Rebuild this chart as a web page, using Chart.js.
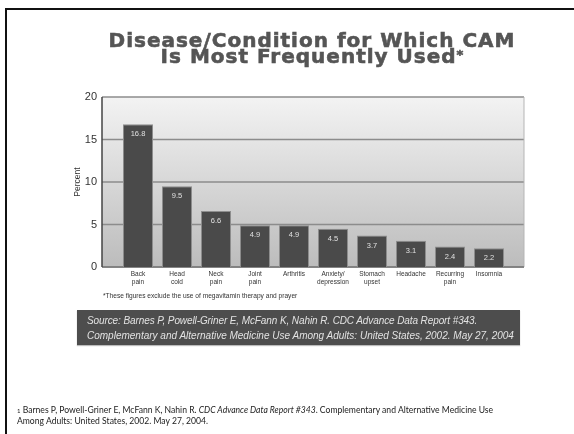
<!DOCTYPE html>
<html>
<head>
<meta charset="utf-8">
<script src="https://cdn.jsdelivr.net/npm/chart.js@4.4.1/dist/chart.umd.min.js"></script>
<style>
  html, body { margin: 0; padding: 0; background: #fff; }
  body { width: 574px; height: 434px; position: relative; overflow: hidden; }
  #frame { position: absolute; left: 5px; top: 8px; width: 567px; height: 440px;
           border-left: 2.5px solid #111; border-top: 2.5px solid #111; }
  #chart { position: absolute; left: 0; top: 0; }
  #title { position: absolute; left: 0; width: 624px; top: 32px; text-align: center;
           font-family: "DejaVu Sans", sans-serif; font-weight: bold; font-size: 20px;
           line-height: 16px; color: #555; letter-spacing: 1px;
           -webkit-text-stroke: 0.6px #555; }
  #title .ast { font-size: 13px; position: relative; top: -4px; letter-spacing: 0; }
  #note { position: absolute; left: 103px; top: 292px; font-family: "Liberation Sans", sans-serif;
          font-size: 6.6px; color: #333; }
  #source { position: absolute; left: 77px; top: 310px; width: 443px; height: 35px;
            background: #4d4d4d; box-shadow: 0 1px 1px #bbb; }
  #source div { position: absolute; left: 10px; font-family: "Liberation Sans", sans-serif;
                font-style: italic; font-size: 10px; color: #e2e2e2; white-space: nowrap; }
  #cite { position: absolute; left: 17px; top: 405px; font-family: Lato, sans-serif;
          font-size: 8.6px; line-height: 11px; color: #222; white-space: nowrap; }
  #cite sup { font-size: 6px; vertical-align: 0; }
</style>
</head>
<body>
<div id="frame"></div>
<canvas id="chart" width="574" height="434"></canvas>
<div id="title">Disease/Condition for Which CAM<br>Is Most Frequently Used<span class="ast">*</span></div>
<div id="note">*These figures exclude the use of megavitamin therapy and prayer</div>
<div id="source">
  <div style="top:5px; letter-spacing:-0.1px">Source: Barnes P, Powell-Griner E, McFann K, Nahin R. CDC Advance Data Report #343.</div>
  <div style="top:20px">Complementary and Alternative Medicine Use Among Adults: United States, 2002. May 27, 2004</div>
</div>
<div id="cite"><sup>1</sup> Barnes P, Powell-Griner E, McFann K, Nahin R. <i>CDC Advance Data Report #343</i>. Complementary and Alternative Medicine Use<br>Among Adults: United States, 2002. May 27, 2004.</div>
<script>
// Conditions (two-line labels) and percent of adults using CAM for each
const conditions = [
  ['Back', 'pain'], ['Head', 'cold'], ['Neck', 'pain'], ['Joint', 'pain'], 'Arthritis',
  ['Anxiety/', 'depression'], ['Stomach', 'upset'], 'Headache', ['Recurring', 'pain'], 'Insomnia'
];
const percentUsing = [16.8, 9.5, 6.6, 4.9, 4.9, 4.5, 3.7, 3.1, 2.4, 2.2];
const percentTicks = [0, 5, 10, 15, 20];

// Grey gradient panel, grid lines and axis frame behind the bars
const panelPlugin = {
  id: 'panel',
  beforeDatasetsDraw(chart) {
    const { ctx, chartArea: a, scales: { y } } = chart;
    const left = a.left - 16.5, right = a.right + 15.5;
    const g = ctx.createLinearGradient(0, a.top, 0, a.bottom);
    g.addColorStop(0, '#f3f3f3');
    g.addColorStop(1, '#bcbcbc');
    ctx.save();
    ctx.fillStyle = g;
    ctx.fillRect(left, a.top, right - left, a.bottom - a.top);
    ctx.lineWidth = 1.5;
    ctx.strokeStyle = '#8c8c8c';
    percentTicks.forEach(v => {
      const py = y.getPixelForValue(v);
      ctx.beginPath(); ctx.moveTo(left, py); ctx.lineTo(right, py); ctx.stroke();
    });
    ctx.strokeStyle = '#b5b5b5';
    ctx.lineWidth = 1;
    ctx.beginPath(); ctx.moveTo(right, a.top); ctx.lineTo(right, a.bottom); ctx.stroke();
    ctx.strokeStyle = '#7a7a7a';
    ctx.lineWidth = 1.5;
    ctx.beginPath(); ctx.moveTo(left, a.bottom); ctx.lineTo(right, a.bottom); ctx.stroke();
    ctx.strokeStyle = '#444';
    ctx.beginPath(); ctx.moveTo(left, a.top); ctx.lineTo(left, a.bottom); ctx.stroke();
    ctx.restore();
  },
  afterDatasetsDraw(chart) {
    const { ctx } = chart;
    const meta = chart.getDatasetMeta(0);
    ctx.save();
    ctx.font = '7.5px "Liberation Sans", sans-serif';
    ctx.fillStyle = '#e0e0e0';
    ctx.textAlign = 'center';
    ctx.textBaseline = 'middle';
    meta.data.forEach((bar, i) => {
      ctx.fillText(percentUsing[i].toFixed(1), bar.x, bar.y + 10);
    });
    ctx.restore();
  }
};

new Chart(document.getElementById('chart'), {
  type: 'bar',
  data: {
    labels: conditions,
    datasets: [{
      data: percentUsing,
      backgroundColor: '#4a4a4a',
      borderColor: '#8e8e8e',
      borderWidth: 1,
      categoryPercentage: 1,
      barPercentage: 0.77
    }]
  },
  options: {
    responsive: false,
    animation: false,
    devicePixelRatio: 1,
    layout: { padding: { top: 97, right: 65.5, bottom: 137, left: 0 } },
    plugins: { legend: { display: false }, tooltip: { enabled: false } },
    scales: {
      x: {
        afterFit(s) { s.height = 30; },
        grid: { display: false, drawTicks: false },
        border: { display: false },
        ticks: {
          padding: 3,
          maxRotation: 0,
          autoSkip: false,
          color: '#333',
          font: { family: '"Liberation Sans", sans-serif', size: 6.5, lineHeight: 1.3 }
        }
      },
      y: {
        min: 0,
        max: 20,
        afterFit(s) { s.width = 118.5; },
        grid: { display: false, drawTicks: false },
        border: { display: false },
        ticks: {
          stepSize: 5,
          padding: 21.5,
          color: '#333',
          font: { family: '"Liberation Sans", sans-serif', size: 11 }
        },
        title: {
          display: true,
          text: 'Percent',
          color: '#333',
          padding: { top: 72.6, bottom: 0 },
          font: { family: '"Liberation Sans", sans-serif', size: 8.5, lineHeight: 1.2 }
        }
      }
    }
  },
  plugins: [panelPlugin]
});
</script>
</body>
</html>
